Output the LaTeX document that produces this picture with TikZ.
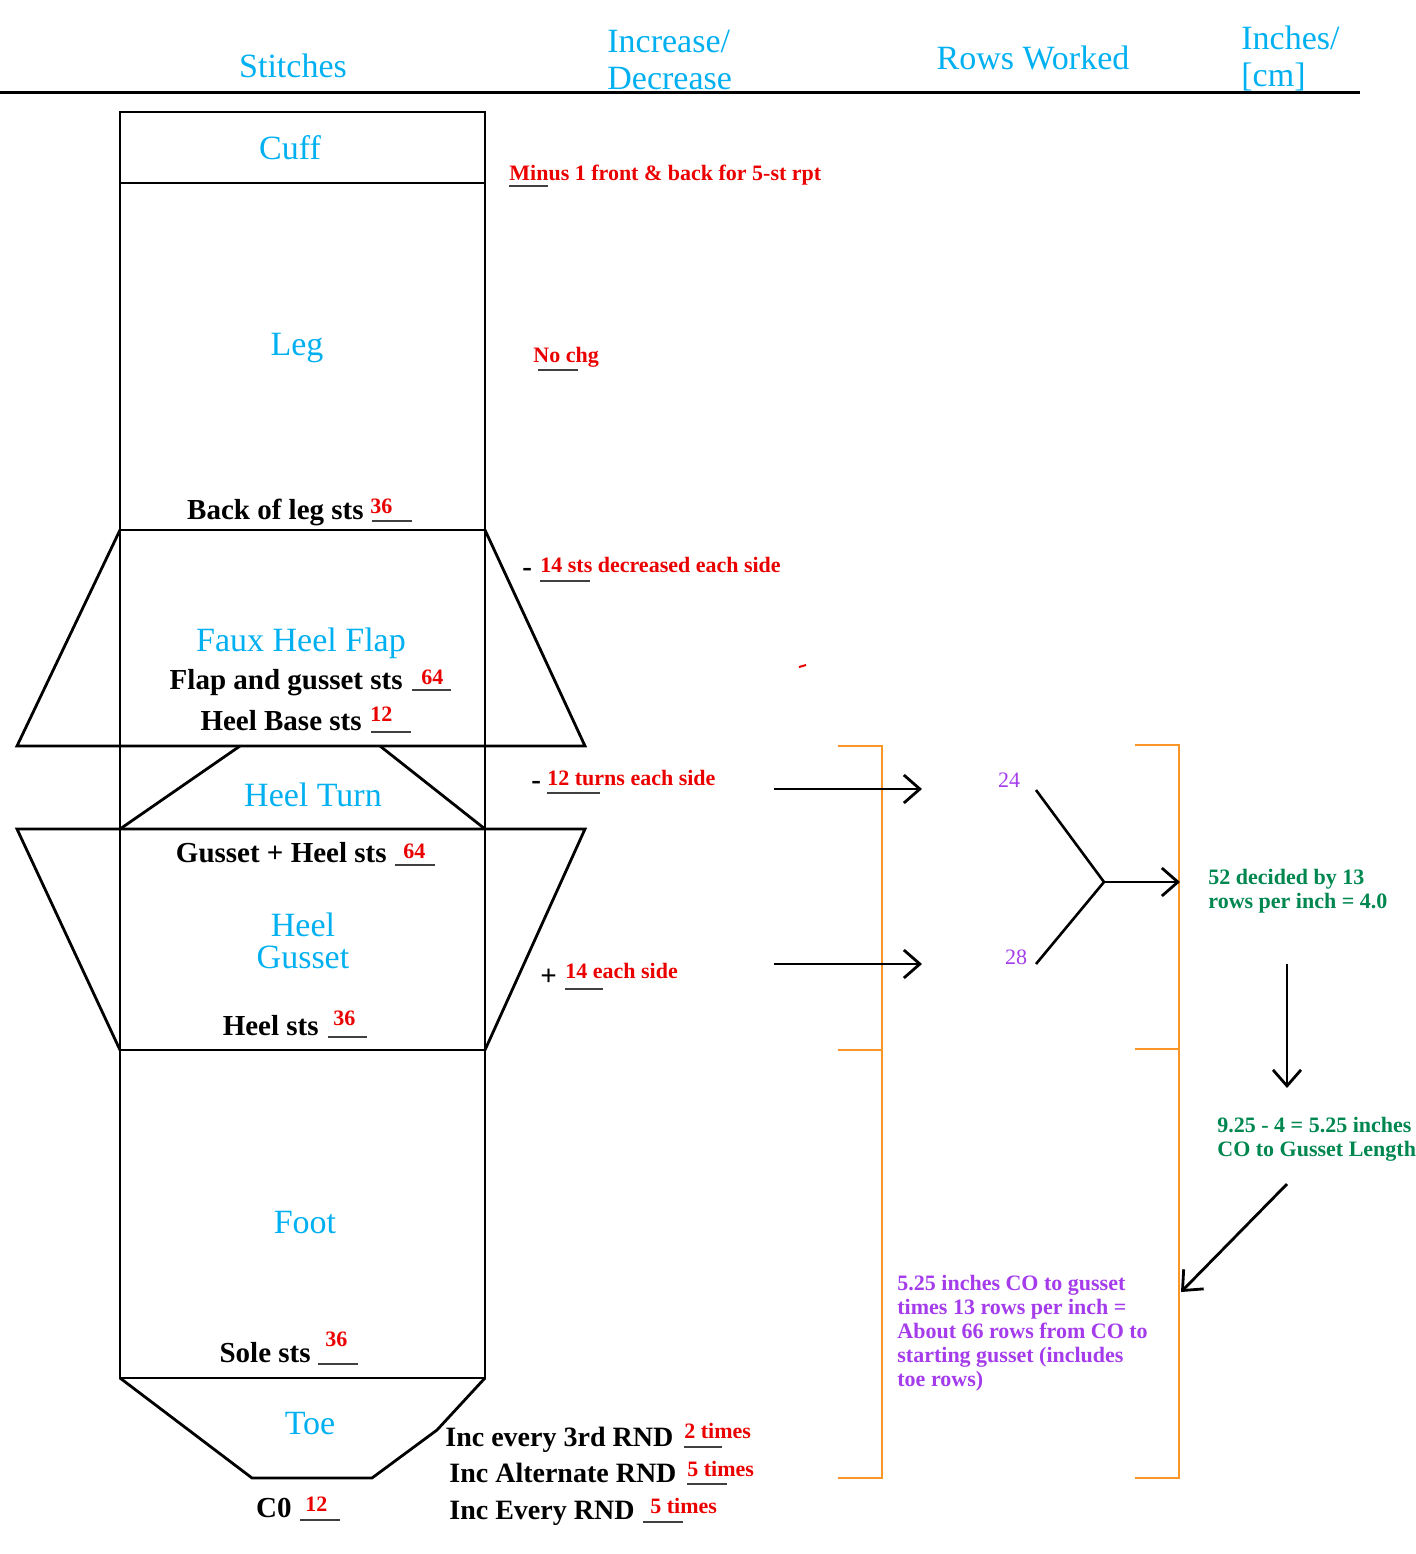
\documentclass[tikz,border=0pt]{standalone}
\usepackage{fontspec}
\setmainfont{Liberation Serif}
\usetikzlibrary{arrows.meta}
\definecolor{hcyan}{RGB}{0,176,240}
\definecolor{hred}{RGB}{235,0,0}
\definecolor{hgreen}{RGB}{0,135,80}
\definecolor{hpurple}{RGB}{165,60,235}
\definecolor{horange}{RGB}{250,150,40}
\begin{document}
\begin{tikzpicture}[x=0.5pt,y=-0.5pt,
  outline/.style={line width=1.4pt, line join=miter},
  hd/.style={text=hcyan, font=\fontsize{17}{18.5}\selectfont, inner sep=0pt, align=left},
  blk/.style={font=\bfseries\fontsize{14.5}{16}\selectfont, inner sep=0pt, anchor=base east},
  blkw/.style={font=\bfseries\fontsize{14.5}{16}\selectfont, inner sep=0pt, anchor=base west},
  toew/.style={font=\bfseries\fontsize{14}{16}\selectfont, inner sep=0pt, anchor=base west},
  rnum/.style={text=hred, font=\bfseries\fontsize{11}{12}\selectfont, inner sep=0pt, anchor=base west},
  uline/.style={line width=0.8pt, black!75},
  arr/.style={-{Straight Barb[length=8pt,width=14pt]}, line width=1.4pt},
  brk/.style={horange, line width=1.4pt},
  grn/.style={text=hgreen, font=\bfseries\fontsize{11}{12}\selectfont, inner sep=0pt, align=left, anchor=west},
  pur/.style={text=hpurple, font=\bfseries\fontsize{11}{12}\selectfont, inner sep=0pt, align=left, anchor=west},
  purn/.style={text=hpurple, font=\fontsize{11}{12}\selectfont, inner sep=0pt},
]
\useasboundingbox (0,0) rectangle (1416,1554);

% header
\node[hd] (hStitches) at (293,66) {Stitches};
\node[hd, anchor=west] (hInc) at (607,60) {Increase/\\Decrease};
\node[hd] (hRows) at (1033,58) {Rows Worked};
\node[hd, anchor=west] (hInch) at (1241,58) {Inches/\\{}[cm]};
\draw[line width=1.5pt] (0,92) -- (1360,92);

% sock outline
\draw[outline] (120,112) rectangle (485,1378);
\draw[outline] (120,183) -- (485,183);
\draw[outline] (120,530) -- (485,530);
\draw[outline] (120,530) -- (17,746) -- (585,746) -- (485,530);
\draw[outline] (240,746) -- (120,829);
\draw[outline] (380,746) -- (485,829);
\draw[outline] (120,1050) -- (17,829) -- (585,829) -- (485,1050);
\draw[outline] (120,1050) -- (485,1050);
\draw[outline] (120,1378) -- (252,1478) -- (372,1478) -- (437,1430) -- (485,1378);

% part names
\node[hd] (pCuff) at (290,148) {Cuff};
\node[hd] (pLeg) at (297,348) {Leg};
\node[hd] (pFlap) at (301,643) {Faux Heel Flap};
\node[hd] (pTurn) at (313,795) {Heel Turn};
\node[hd, align=center, font=\fontsize{17}{16}\selectfont] (pHeelGusset) at (303,941) {Heel\\Gusset};
\node[hd] (pFoot) at (305,1223) {Foot};
\node[hd] (pToe) at (310,1424) {Toe};

% stitch counts
\node[blk] (lBack) at (364,519) {Back of leg sts};
\node[rnum] (nBack) at (370,513) {36};
\draw[uline] (372,521) -- (412,521);

\node[blk] (lFlap) at (403,689) {Flap and gusset sts};
\node[rnum] (nFlap) at (421,684) {64};
\draw[uline] (412,690) -- (451,690);

\node[blk] (lBase) at (362,730) {Heel Base sts};
\node[rnum] (nBase) at (370,721) {12};
\draw[uline] (371,732) -- (411,732);

\node[blk] (lGus) at (387,862) {Gusset + Heel sts};
\node[rnum] (nGus) at (403,858) {64};
\draw[uline] (395,865) -- (435,865);

\node[blk] (lHeel) at (319,1035) {Heel sts};
\node[rnum] (nHeel) at (333,1025) {36};
\draw[uline] (328,1037) -- (367,1037);

\node[blk] (lSole) at (311,1362) {Sole sts};
\node[rnum] (nSole) at (325,1346) {36};
\draw[uline] (318,1364) -- (358,1364);

\node[blk] (lCO) at (292,1517) {C0};
\node[rnum] (nCO) at (305,1511) {12};
\draw[uline] (300,1520) -- (340,1520);

% increase / decrease column
\node[rnum] (dCuff) at (509,180) {Minus 1 front \& back for 5-st rpt};
\draw[uline] (509,186) -- (548,186);

\node[rnum] (dLeg) at (533,362) {No chg};
\draw[uline] (538,370) -- (578,370);

\node[blkw] (mFlap) at (522,576) {-};
\node[rnum] (dFlap) at (540,572) {14 sts decreased each side};
\draw[uline] (540,581) -- (590,581);
\draw[hred, line width=1pt] (799,667) -- (806,665);

\node[blkw] (mTurn) at (531,789) {-};
\node[rnum] (dTurn) at (547,785) {12 turns each side};
\draw[uline] (547,793) -- (600,793);

\node[blkw] (mGus) at (540,985) {+};
\node[rnum] (dGus) at (565,978) {14 each side};
\draw[uline] (565,989) -- (603,989);

% toe increases
\node[toew] (tA) at (445,1446) {Inc every 3rd RND};
\node[rnum] (tAn) at (684,1438) {2 times};
\draw[uline] (684,1447) -- (722,1447);
\node[toew] (tB) at (449,1482) {Inc Alternate RND};
\node[rnum] (tBn) at (687,1476) {5 times};
\draw[uline] (687,1484) -- (727,1484);
\node[toew] (tC) at (449,1519) {Inc Every RND};
\node[rnum] (tCn) at (650,1513) {5 times};
\draw[uline] (643,1522) -- (683,1522);

% orange brackets
\draw[brk] (838,746) -- (882,746) -- (882,1478) -- (838,1478);
\draw[brk] (838,1050) -- (882,1050);
\draw[brk] (1135,745) -- (1179,745) -- (1179,1478) -- (1135,1478);
\draw[brk] (1135,1049) -- (1179,1049);

% rows worked
\coordinate (a1s) at (774,789);
\coordinate (a1e) at (922,789);
\coordinate (a2s) at (774,964);
\coordinate (a2e) at (922,964);
\draw[arr] (a1s) -- (a1e);
\draw[arr] (a2s) -- (a2e);
\node[purn] (r24) at (1009,780) {24};
\node[purn] (r28) at (1016,957) {28};
\coordinate (j1) at (1036,790);
\coordinate (j2) at (1036,964);
\coordinate (jm) at (1104,882);
\coordinate (je) at (1180,882);
\draw[line width=1.3pt] (j1) -- (jm) -- (j2);
\draw[arr] (jm) -- (je);

\node[grn] (g1) at (1208,891) {52 decided by 13\\rows per inch = 4.0};
\coordinate (d1s) at (1287,964);
\coordinate (d1e) at (1287,1088);
\draw[arr] (d1s) -- (d1e);
\node[grn] (g2) at (1217,1139) {9.25 - 4 = 5.25 inches\\CO to Gusset Length};
\coordinate (d2s) at (1287,1184);
\coordinate (d2e) at (1181,1292);
\draw[arr] (d2s) -- (d2e);

\node[pur] (p1) at (897,1333) {5.25 inches CO to gusset\\times 13 rows per inch =\\About 66 rows from CO to\\starting gusset (includes\\toe rows)};
\end{tikzpicture}
\end{document}
